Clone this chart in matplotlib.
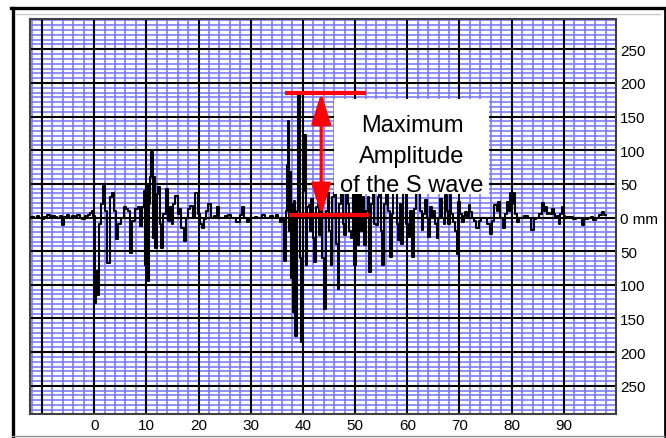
import matplotlib
matplotlib.use("Agg")
import numpy as np
import matplotlib.pyplot as plt
from matplotlib.ticker import FixedLocator, NullLocator
from matplotlib.lines import Line2D
from matplotlib.patches import Rectangle

# ---------------- data ----------------
time_s = [
    -12.3, -11.8, -11.3, -10.8, -10.3, -9.8, -9.3, -8.8, -8.3, -7.8, -7.3, -6.8, -6.3, -5.9,
    -5.5, -5.0, -4.5, -4.0, -3.5, -3.0, -2.5, -2.0, -1.5, -1.0, -0.6, -0.3, 0.0,
    0.15, 0.5, 0.8, 1.1, 1.5, 1.9, 2.3, 2.8, 3.2, 3.55, 3.9, 4.4, 4.9, 5.4, 5.9, 6.3, 6.6,
    7.0, 7.5, 8.1, 8.6, 9.1, 9.4, 9.7, 9.9, 10.15, 10.4, 10.6, 10.85, 11.1, 11.3, 11.6,
    11.85, 12.1, 12.35, 12.75, 13.05, 13.45, 13.9, 14.25, 14.65, 15.0, 15.35, 15.8, 16.2,
    16.55, 16.9, 17.4, 17.8, 18.2, 18.65, 19.1, 19.6, 20.0, 20.4, 20.8, 21.2, 21.65, 22.15,
    22.7, 23.2, 23.75, 24.2, 24.7, 25.3, 26.0, 26.5, 26.9, 27.6, 28.1, 28.5, 28.9, 29.5,
    30.0, 30.5, 31.0, 31.5, 32.0, 32.5, 33.0, 33.5, 34.0, 34.5, 35.0, 35.5, 35.9,
    36.2, 36.6, 36.85, 37.05, 37.25, 37.45, 37.65, 37.85, 38.0, 38.2, 38.45, 38.7, 38.9,
    39.15, 39.35, 39.55, 39.8, 40.0, 40.2, 40.4, 40.6, 40.75, 41.0, 41.25, 41.5, 41.7,
    42.0, 42.3, 42.6, 43.0, 43.3, 43.6, 43.9, 44.25, 44.55, 44.9, 45.2, 45.5, 45.8, 46.2,
    46.5, 46.8, 47.1, 47.45, 47.8, 48.1, 48.4, 48.7, 49.0, 49.35, 49.7, 50.0, 50.3, 50.6,
    50.95, 51.3, 51.6, 51.9, 52.3, 52.6, 52.9, 53.2, 53.5, 53.8, 54.15, 54.5, 54.8, 55.1,
    55.4, 55.8, 56.1, 56.4, 56.9, 57.2, 57.5, 57.8, 58.1, 58.4, 58.7, 59.0, 59.3, 59.7,
    60.0, 60.3, 60.7, 61.1, 61.5, 61.9, 62.3, 62.6, 62.9, 63.2, 63.5, 63.9, 64.2, 64.5,
    64.8, 65.1, 65.5, 65.8, 66.1, 66.4, 66.8, 67.1, 67.4, 67.7, 68.0, 68.3, 68.6, 69.0,
    69.3, 69.6, 69.9, 70.2, 70.6, 71.0, 71.2, 71.6, 71.9, 72.2, 72.5, 73.0, 73.5, 74.0,
    74.4, 75.1, 75.6, 76.0, 76.4, 77.0, 77.3, 77.6, 78.1, 78.6, 78.9, 79.2, 79.6, 79.9,
    80.2, 80.5, 80.8, 81.2, 81.6, 82.1, 82.7, 83.4, 84.0, 84.5, 85.0, 85.5, 86.0, 86.3,
    86.6, 86.9, 87.2, 87.6, 87.9, 88.2, 88.5, 88.9, 89.2, 89.5, 89.8, 90.1, 90.4, 91.0,
    91.4, 92.0, 92.7, 93.2, 93.7, 94.2, 94.9, 95.4, 95.9, 96.5, 97.0, 97.5, 98.0,
]
amp_mm = [
    0, 1, -1, 2, 0, -2, 1, 3, 0, 2, 1, -1, 2, -11,
    1, 3, 0, 2, -1, 3, 0, -2, 2, 4, 6, 10, 2,
    -127, -80, -115, -10, 20, 47, 10, -67, 30, 37, 10, -32, -10, 0, 16, 12, 10,
    -52, -5, 12, 15, -12, 15, 40, -70, 50, -95, 20, 60, 97, -30, 60,
    -45, 35, 45, -10, -45, 5, 42, -5, 15, -10, 20, 32, 5,
    12, -15, -35, 0, 12, 17, 0, 37, 5, -10, -15, -2, 10, 20,
    0, 2, 15, 0, 0, 2, 4, 0, 0, -7, 3, 15, 0, -7,
    0, 0, 1, -1, 0, 3, 0, 0, 2, -1, 3, 0, -6,
    0, -64, 10, 78, 143, -20, 68, -90, 20, -141, 25, -176, 10,
    183, 183, -60, -185, -150, 40, 123, -20, -71, 15, 18, -20, 28,
    -30, -66, 15, 20, -26, 15, -60, -136, 10, 36, -20, -71, 30, 36,
    -40, -106, 20, 36, -10, -26, 36, 20, -20, -31, 36, -71, 36, -41,
    36, -20, 30, -41, 10, 30, -81, 20, 36, -10, -11, 30, 36, -20,
    -71, 20, 36, 10, -59, 5, 36, 36, -10, -34, 20, -39, 36, 36,
    -10, -29, 10, -59, 13, 36, 36, 10, -19, 5, 26, 0, -29, 16,
    0, 9, -10, -31, 0, 28, 0, -9, 33, 10, -9, 33, 5, -6,
    -20, -54, 23, 5, -6, 2, 8, 0, 18, 8, -1, -5, -16, -5,
    -1, -1, -10, -24, -5, 18, 10, 23, 0, -16, 5, 23, 10, 36,
    20, 36, 5, -6, 0, -1, 2, -1, -19, -2, -1, 5, 21, 10,
    16, 5, 6, 5, 13, 5, -1, 2, -9, 5, 16, 2, 0, 1,
    1, -2, -1, 0, -11, -2, -1, 1, -3, 0, 3, 8, 4,
]

x_major = [-10, 0, 10, 20, 30, 40, 50, 60, 70, 80, 90]
x_labels = ["", "0", "10", "20", "30", "40", "50", "60", "70", "80", "90"]
y_major = [250, 200, 150, 100, 50, 0, -50, -100, -150, -200, -250]
y_labels = ["250", "200", "150", "100", "50", "0 mm", "50", "100", "150", "200", "250"]

s_peak_mm = 185
s_base_mm = 4
peak_line_x = (36.5, 52.1)
base_line_x = (37.4, 52.7)
arrow_x = 43.5
label_lines = ["Maximum", "Amplitude", "of the S wave"]
label_y = [128, 82, 39]
label_x = 60.9
box_x = (46.0, 75.7)
box_y = (35, 176)

# ---------------- figure ----------------
W, H = 666, 439
fig = plt.figure(figsize=(W / 100, H / 100), dpi=100)
fig.patch.set_facecolor("white")

L, R, T, B = 30, 616, 20, 415
ax = fig.add_axes([L / W, (H - B) / H, (R - L) / W, (B - T) / H])
XL, YL = (-12.3, 100), (-292, 295)
ax.set_xlim(*XL)
ax.set_ylim(*YL)

ax.xaxis.set_major_locator(FixedLocator(x_major))
ax.yaxis.set_major_locator(FixedLocator(y_major))
ax.xaxis.set_minor_locator(NullLocator())
ax.yaxis.set_minor_locator(NullLocator())
ax.set_xticklabels(x_labels)
ax.set_yticklabels(y_labels)
ax.yaxis.tick_right()
ax.tick_params(which="both", length=0)
ax.tick_params(axis="x", pad=3, labelsize=11)
ax.tick_params(axis="y", pad=3, labelsize=11)
for lab in ax.get_xticklabels() + ax.get_yticklabels():
    lab.set_fontfamily("Liberation Sans")

# chart-paper grid: blue minor lines under black major lines
blue = "#7676ff"
for gx in np.arange(-12, 100.1, 2):
    ax.axvline(gx, color=blue, lw=1.15, zorder=0.5)
for gy in np.arange(-50 / 7 * 40, 296, 50 / 7):
    ax.axhline(gy, color=blue, lw=1.15, zorder=0.5)
for gx in x_major:
    ax.axvline(gx, color="black", lw=1.5, zorder=1)
for gy in y_major:
    ax.axhline(gy, color="black", lw=1.5, zorder=1)

for sp in ax.spines.values():
    sp.set_color("#404040")
    sp.set_linewidth(1.5)

ax.plot(time_s, amp_mm, color="black", lw=1.5, drawstyle="steps-mid", zorder=3)

# red annotation
ax.plot(peak_line_x, [s_peak_mm, s_peak_mm], color="red", lw=3, zorder=5, solid_capstyle="butt")
ax.plot(base_line_x, [s_base_mm, s_base_mm], color="red", lw=3, zorder=5, solid_capstyle="butt")
ax.annotate("", xy=(arrow_x, s_peak_mm), xytext=(arrow_x, s_base_mm),
            arrowprops=dict(arrowstyle="<|-|>,head_length=1.9,head_width=0.6",
                            mutation_scale=10, lw=2.3, color="red",
                            shrinkA=0, shrinkB=0), zorder=6)

ax.add_patch(Rectangle((box_x[0], box_y[0]), box_x[1] - box_x[0], box_y[1] - box_y[0],
                       facecolor="white", edgecolor="none", zorder=7))
for txt, yy in zip(label_lines, label_y):
    ax.text(label_x, yy, txt, ha="center", va="baseline", fontsize=17,
            family="Liberation Sans", color="black", zorder=8)

# outer frame
def fline(x0, y0, x1, y1, **kw):
    fig.add_artist(Line2D([x0 / W, x1 / W], [1 - y0 / H, 1 - y1 / H],
                          transform=fig.transFigure, **kw))

fline(12.5, 8.5, 12.5, 439, color="black", lw=2.4)
fline(11, 8.5, 666, 8.5, color="black", lw=2.4)
fline(664.5, 8.5, 664.5, 437, color="black", lw=2.0)
fline(12, 437, 664, 437, color="#909090", lw=1.0)
fline(15, 15, 660, 15, color="#c8c8c8", lw=1.0)

fig.savefig("out.png", dpi=100)
